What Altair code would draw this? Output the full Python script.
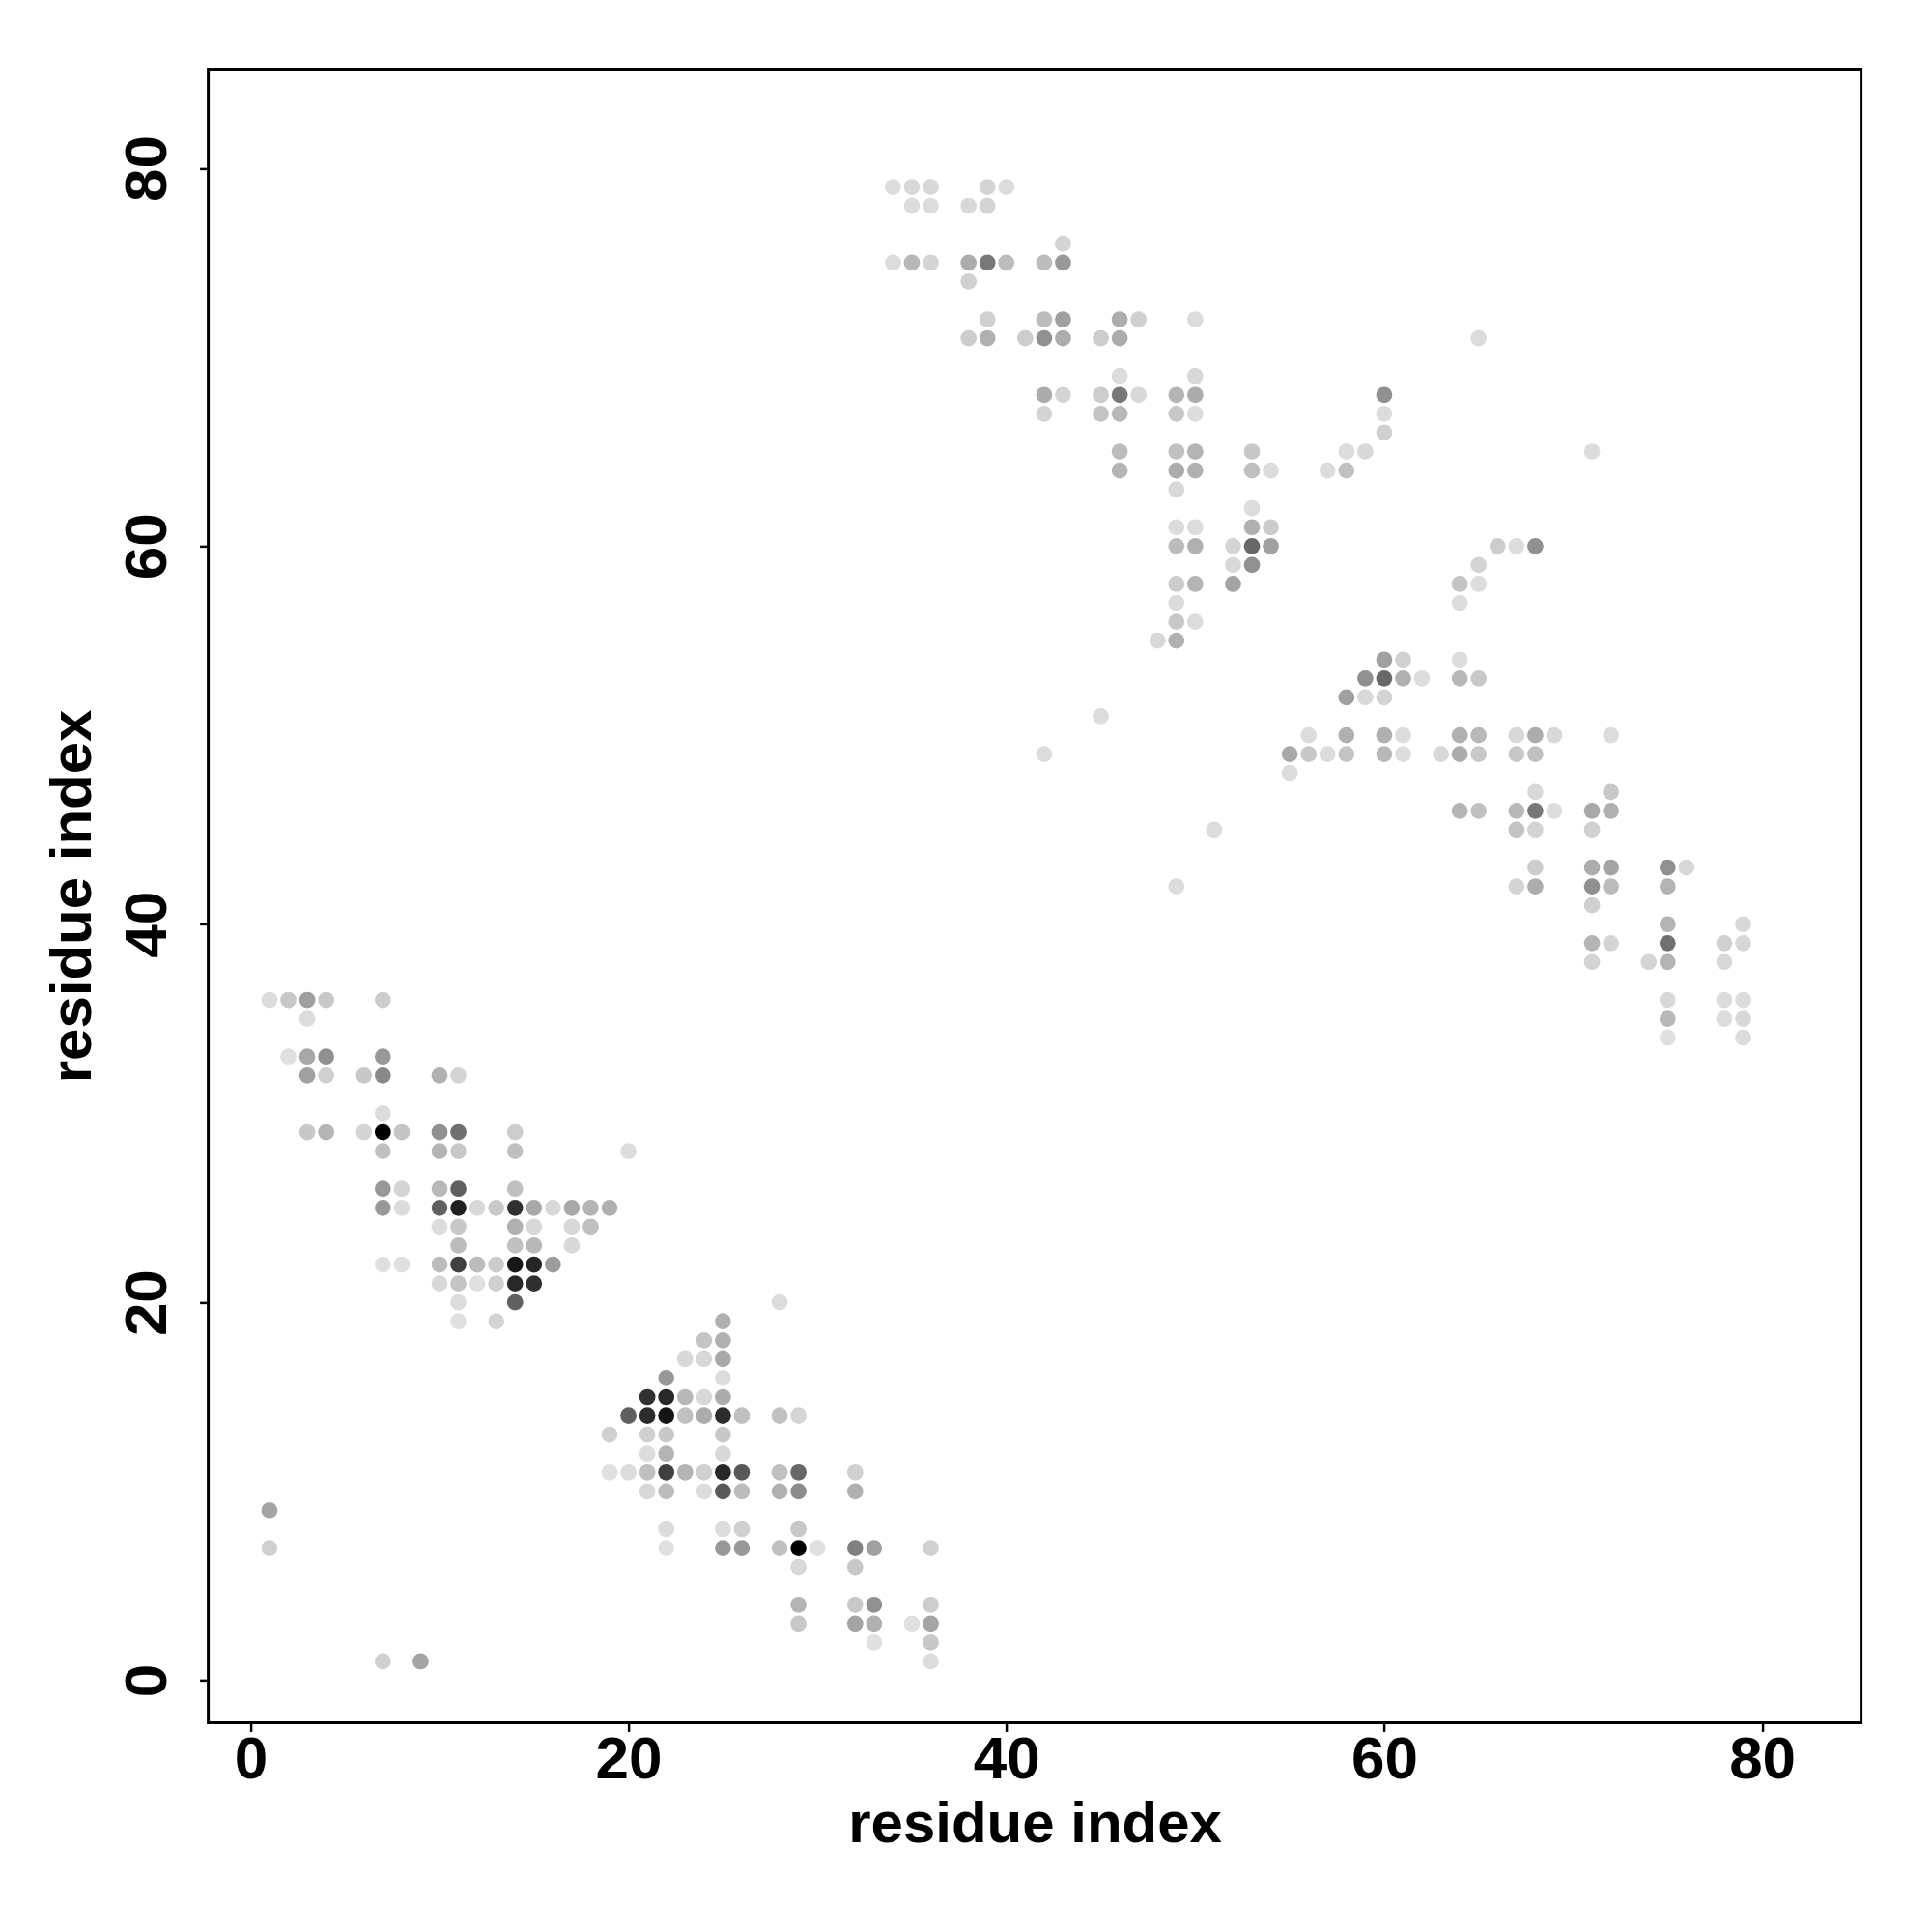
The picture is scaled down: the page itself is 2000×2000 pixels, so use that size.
import altair as alt
import pandas as pd

# contact map: (residue i, residue j, contact score 0-255; higher = darker)
contacts_lower = [
    (1,36,35),(2,36,55),(3,36,95),(4,36,55),(7,36,51),
    (3,35,35),
    (2,33,31),(3,33,87),(4,33,111),(7,33,103),
    (3,32,95),(4,32,47),(6,32,55),(7,32,119),(10,32,79),(11,32,43),
    (7,30,35),
    (3,29,55),(4,29,75),(6,29,43),(7,29,255),(8,29,59),(10,29,111),(11,29,143),(14,29,51),
    (7,28,63),(10,28,75),(11,28,55),(14,28,63),(20,28,35),
    (7,26,103),(8,26,43),(10,26,71),(11,26,159),(14,26,63),
    (7,25,103),(8,25,35),(10,25,159),(11,25,223),(12,25,39),(13,25,55),(14,25,207),
    (15,25,87),(16,25,39),(17,25,87),(18,25,75),(19,25,79),
    (10,24,35),(11,24,55),(14,24,79),(15,24,39),(17,24,39),(18,24,63),
    (11,23,67),(14,23,63),(15,23,71),(17,23,39),
    (7,22,31),(8,22,31),(10,22,67),(11,22,191),(12,22,67),(13,22,51),(14,22,231),(15,22,218),(16,22,99),
    (10,21,39),(11,21,59),(12,21,31),(13,21,47),(14,21,215),(15,21,207),
    (11,20,35),(14,20,159),
    (11,19,31),(13,19,43),
    (28,20,35),(25,19,79),(24,18,59),(25,18,79),(23,17,39),(24,17,39),(25,17,87),(22,16,103),(25,16,35),
    (21,15,207),(22,15,215),(23,15,71),(24,15,39),(25,15,83),
    (20,14,159),(21,14,211),(22,14,235),(23,14,63),(24,14,83),(25,14,211),(26,14,63),(28,14,63),(29,14,43),
    (19,13,47),(21,13,47),(22,13,55),(25,13,55),
    (21,12,35),(22,12,75),(25,12,39),
    (19,11,31),(20,11,35),(21,11,63),(22,11,191),(23,11,75),(24,11,47),(25,11,215),(26,11,167),
    (28,11,63),(29,11,151),(32,11,47),
    (21,10,39),(22,10,67),(24,10,35),(25,10,167),(26,10,67),(28,10,79),(29,10,115),(32,10,79),
    (22,8,35),(25,8,35),(26,8,47),(29,8,55),
    (22,7,31),(25,7,103),(26,7,103),(28,7,63),(29,7,255),(30,7,31),(32,7,127),(33,7,95),(36,7,47),
    (29,6,39),(32,6,55),
    (29,4,75),(32,4,55),(33,4,111),(36,4,51),
    (29,3,55),(32,3,91),(33,3,79),(35,3,31),(36,3,91),
    (33,2,31),(36,2,55),
    (36,1,35),
    (1,9,91),(1,7,47),(7,1,47),(9,1,91),
]

contacts_upper = [
    (34,79,35),(35,79,39),(36,79,39),(39,79,43),(40,79,35),
    (35,78,35),(36,78,35),(38,78,39),(39,78,43),
    (43,76,43),
    (34,75,35),(35,75,71),(36,75,43),(38,75,83),(39,75,135),(40,75,67),(42,75,67),(43,75,103),
    (38,74,47),
    (39,72,47),(42,72,67),(43,72,95),(46,72,83),(47,72,47),(50,72,35),
    (38,71,51),(39,71,79),(41,71,51),(42,71,111),(43,71,83),(45,71,51),(46,71,83),(65,71,35),
    (46,69,35),(50,69,39),
    (42,68,83),(43,68,43),(45,68,51),(46,68,135),(47,68,39),(49,68,75),(50,68,83),(60,68,111),
    (42,67,43),(45,67,59),(46,67,71),(49,67,55),(50,67,35),(60,67,35),
    (60,66,47),
    (46,65,67),(49,65,63),(50,65,75),(53,65,55),(58,65,35),(59,65,39),(71,65,35),
    (46,64,75),(49,64,83),(50,64,79),(53,64,63),(54,64,35),(57,64,35),(58,64,63),
    (49,63,39),
    (53,62,35),
    (49,61,35),(50,61,35),(53,61,79),(54,61,51),
    (49,60,67),(50,60,79),(52,60,43),(53,60,151),(54,60,95),(66,60,51),(67,60,35),(68,60,111),
    (52,59,39),(53,59,111),(65,59,43),
    (49,58,51),(50,58,75),(52,58,91),(64,58,59),(65,58,35),
    (49,57,35),(64,57,35),
    (49,56,55),(50,56,35),
    (48,55,39),(49,55,79),
    (60,54,95),(61,54,47),(64,54,35),
    (59,53,111),(60,53,151),(61,53,79),(62,53,35),(64,53,71),(65,53,55),
    (58,52,95),(59,52,39),(60,52,43),
    (45,51,35),
    (56,50,35),(58,50,79),(60,50,79),(61,50,35),(64,50,79),(65,50,71),(67,50,39),(68,50,83),(69,50,39),(72,50,35),
    (42,49,35),(55,49,87),(56,49,55),(57,49,35),(58,49,59),(60,49,71),(61,49,35),(63,49,39),
    (64,49,83),(65,49,55),(67,49,55),(68,49,63),
    (55,48,35),
    (68,47,39),(72,47,55),
    (64,46,75),(65,46,63),(67,46,71),(68,46,135),(69,46,35),(71,46,87),(72,46,79),
    (51,45,35),(67,45,59),(68,45,43),(71,45,47),
    (68,43,51),(71,43,83),(72,43,91),(75,43,111),(76,43,39),
    (49,42,35),(67,42,43),(68,42,83),(71,42,111),(72,42,67),(75,42,75),
    (71,41,47),
    (75,40,75),(79,40,39),
    (71,39,75),(72,39,43),(75,39,143),(78,39,47),(79,39,39),
    (71,38,43),(74,38,43),(75,38,75),(78,38,39),
    (75,36,39),(78,36,35),(79,36,35),
    (75,35,71),(78,35,35),(79,35,39),
    (75,34,31),(79,34,35),
]

tick_values = [0, 20, 40, 60, 80]
axis_title = "residue index"

df = pd.DataFrame(contacts_lower + contacts_upper, columns=["i", "j", "score"])

FONT = "Liberation Sans"
W, H = 1711, 1712
dom = [-2.24, 85.24]

x_axis = alt.Axis(
    values=tick_values, title=axis_title, grid=False, domain=False,
    tickColor="black", tickWidth=2.5, tickSize=9,
    labelFont=FONT, labelFontSize=62, labelFontWeight="bold", labelColor="black",
    labelPadding=48, labelBaseline="alphabetic", labelAlign="center", labelFlush=False,
    titleFont=FONT, titleFontSize=60, titleFontWeight="bold", titleColor="black",
    titleX=W / 2, titleY=123, titleBaseline="alphabetic", titleAlign="center",
)
y_axis = alt.Axis(
    values=tick_values, title=axis_title, grid=False, domain=False,
    tickColor="black", tickWidth=2.5, tickSize=9,
    labelFont=FONT, labelFontSize=62, labelFontWeight="bold", labelColor="black",
    labelAngle=270, labelPadding=35.6, labelBaseline="alphabetic", labelAlign="center", labelFlush=False,
    titleFont=FONT, titleFontSize=60, titleFontWeight="bold", titleColor="black",
    titleAngle=270, titleX=-122.6, titleY=H / 2, titleBaseline="alphabetic", titleAlign="center",
)

chart = alt.Chart(df).mark_circle(size=280, opacity=1).encode(
    x=alt.X("i:Q", scale=alt.Scale(domain=dom, nice=False, zero=False), axis=x_axis),
    y=alt.Y("j:Q", scale=alt.Scale(domain=dom, nice=False, zero=False), axis=y_axis),
    color=alt.Color("score:Q",
                    scale=alt.Scale(domain=[0, 255], range=["#ffffff", "#000000"], interpolate="rgb"),
                    legend=None),
).properties(
    width=W, height=H,
    autosize=alt.AutoSizeParams(type="none"),
    padding={"left": 207.6, "top": 63.4, "right": 65, "bottom": 209},
    background="white",
).configure_view(stroke="black", strokeWidth=3)

chart.save("out.html", embed_options={"renderer": "svg", "actions": False})
